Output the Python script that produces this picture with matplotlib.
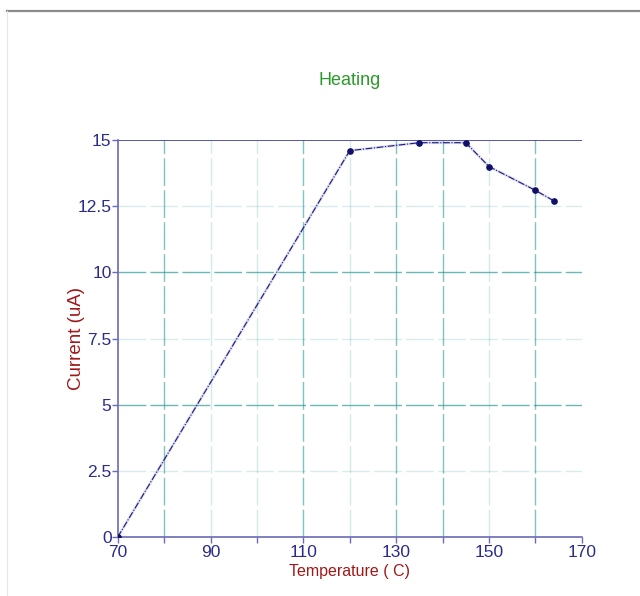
import matplotlib
matplotlib.use("Agg")
import matplotlib.pyplot as plt
from matplotlib.lines import Line2D

plt.rcParams['font.family'] = ['Liberation Sans', 'DejaVu Sans']

# data
temp = [70, 120, 135, 145, 150, 160, 164]
current = [0, 14.6, 14.9, 14.9, 14.0, 13.1, 12.7]
xticks = [70, 90, 110, 130, 150, 170]
yticks = [0, 2.5, 5, 7.5, 10, 12.5, 15]
ytick_labels = ['0', '2.5', '5', '7.5', '10', '12.5', '15']

navy = '#1a1a7a'
axis_col = '#6a6ab8'
tick_col = '#2b2b8c'
grid_col = '#2a9a96'
label_col = '#a01818'

fig = plt.figure(figsize=(6.4, 5.96), dpi=100)
ax = fig.add_axes([0.184, 0.099, 0.725, 0.666])

ax.set_xlim(70, 170)
ax.set_ylim(0, 15)

# grid: vertical lines every 10, horizontal every 2.5
for gx in range(80, 170, 10):
    a = 0.6 if gx in (80, 110, 130, 140, 160) else 0.2
    ax.axvline(gx, color=grid_col, lw=1.0, alpha=a, dashes=(20, 3), zorder=1)
for gy in [2.5, 5, 7.5, 10, 12.5]:
    a = 0.7 if gy in (5, 10) else 0.18
    ax.axhline(gy, color=grid_col, lw=1.0, alpha=a, dashes=(20, 3), zorder=1)

ax.axhline(15, color='#4848a8', lw=1.3, zorder=2)

ax.plot(temp, current, color='#9a9ad6', lw=2.0, alpha=0.35, zorder=2)
ax.plot(temp, current, color=navy, lw=0.8, ls=(0, (6, 1.5, 1, 1.5)), zorder=3)
ax.plot(temp, current, 'o', color='#10106a', ms=3.8, zorder=4)

ax.set_xticks(xticks)
ax.set_xticks(range(70, 171, 10), minor=True)
ax.set_yticks(yticks)
ax.set_yticklabels(ytick_labels)
ax.tick_params(axis='both', which='both', colors=axis_col, labelcolor=tick_col,
               labelsize=12.5, length=4, width=1)
ax.tick_params(axis='y', pad=0.5)
ax.tick_params(axis='x', pad=2)
for lab in ax.get_xticklabels() + ax.get_yticklabels():
    lab.set_family(['Liberation Sans Narrow', 'Liberation Sans'])

for s in ['top', 'right']:
    ax.spines[s].set_visible(False)
for s in ['left', 'bottom']:
    ax.spines[s].set_color(axis_col)
    ax.spines[s].set_linewidth(1.2)

ax.set_title('Heating', color='#2a9a2a', fontsize=13, pad=40)
ax.set_xlabel('Temperature ( C)', color=label_col, fontsize=11.5, labelpad=3)
ax.set_ylabel('Current (uA)', color=label_col, fontsize=13.5)
ax.yaxis.set_label_coords(-0.07, 0.5)

# screenshot frame
fig.add_artist(Line2D([0.011, 1.0], [0.982, 0.982], color='#8c8c8c', lw=1.6,
                      transform=fig.transFigure))
fig.add_artist(Line2D([0.011, 0.011], [0.0, 0.982], color='#e6e6e6', lw=0.8,
                      transform=fig.transFigure))

fig.savefig('out.png', dpi=100, facecolor='white')
